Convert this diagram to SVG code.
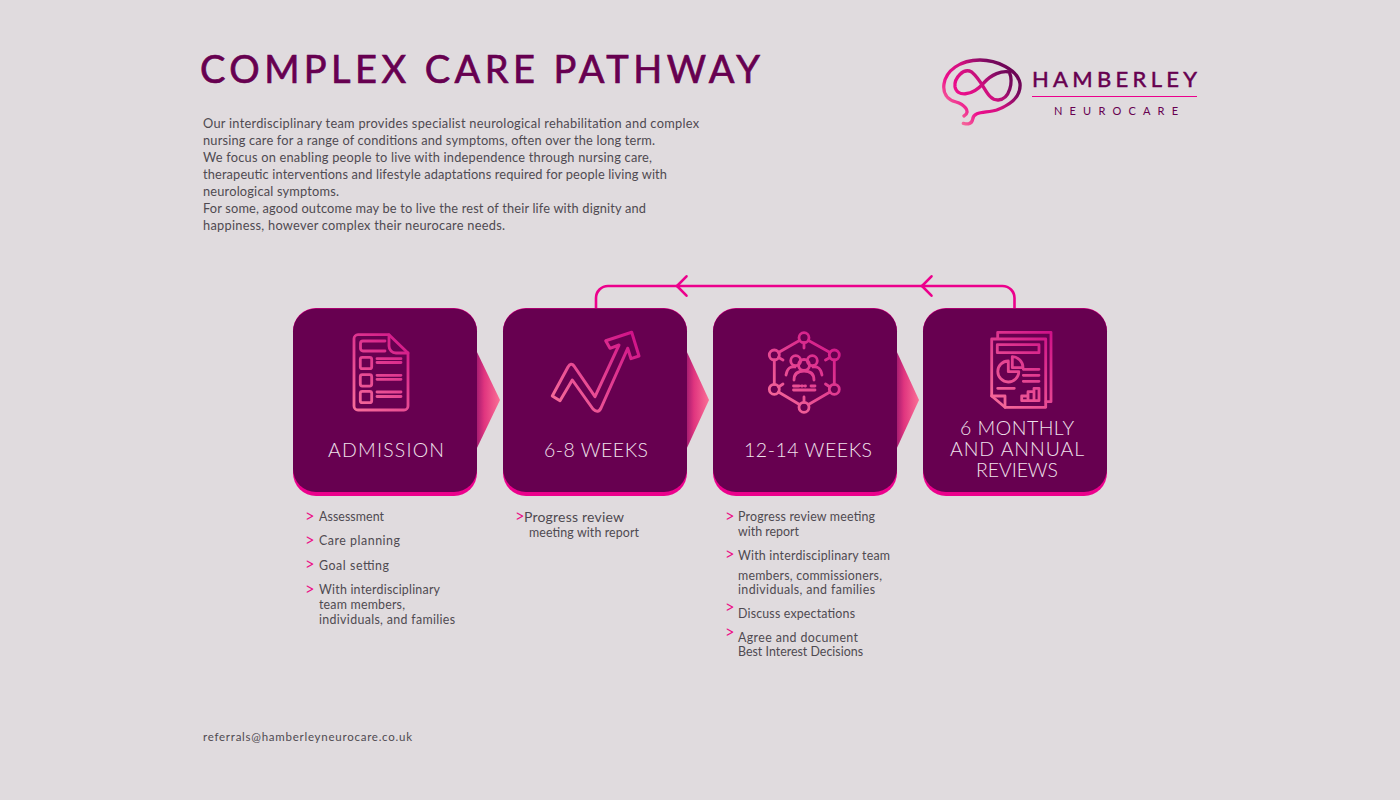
<svg xmlns="http://www.w3.org/2000/svg" width="1400" height="800" viewBox="0 0 1400 800">
<style>
text{font-family:"Lato","Open Sans","Liberation Sans",sans-serif}
.title{font-size:38px;fill:#670050;font-weight:400;stroke:#670050;stroke-width:0.7px}
.para{font-size:12.800px;fill:#4f4a51;font-weight:400}
.li{font-size:12.400px;fill:#4f4a51;font-weight:400}
.gt{font-size:16.500px;fill:#ec1088;font-weight:400}
.lab{font-size:19.500px;fill:#f0e2ec;font-weight:300}
.lip{fill:#ec008c}
.card{fill:#670050}
.ic{fill:none;stroke-width:2.800;stroke-linejoin:round;stroke-linecap:round}
.loop{fill:none;stroke:#ec008c;stroke-width:2.600;stroke-linecap:round}
</style>
<defs>
<linearGradient id="ar1" x1="0" x2="1" y1="0" y2="0"><stop offset="0" stop-color="#a01a70"/><stop offset="0.35" stop-color="#e0357f"/><stop offset="1" stop-color="#fb7096"/></linearGradient>
<linearGradient id="i1" gradientUnits="userSpaceOnUse" x1="350" y1="410" x2="412" y2="335"><stop offset="0" stop-color="#f8709a"/><stop offset="1" stop-color="#cf1088"/></linearGradient>
<linearGradient id="i2" gradientUnits="userSpaceOnUse" x1="552" y1="410" x2="638" y2="335"><stop offset="0" stop-color="#f8709a"/><stop offset="1" stop-color="#cf1088"/></linearGradient>
<linearGradient id="i3" gradientUnits="userSpaceOnUse" x1="770" y1="410" x2="838" y2="335"><stop offset="0" stop-color="#f8709a"/><stop offset="1" stop-color="#cf1088"/></linearGradient>
<linearGradient id="i4" gradientUnits="userSpaceOnUse" x1="990" y1="408" x2="1052" y2="332"><stop offset="0" stop-color="#f8709a"/><stop offset="1" stop-color="#cf1088"/></linearGradient>
<linearGradient id="lg" gradientUnits="userSpaceOnUse" x1="50" y1="230" x2="240" y2="60"><stop offset="0" stop-color="#f98aa0"/><stop offset="0.3" stop-color="#ec0d8c"/><stop offset="0.55" stop-color="#d0107f"/><stop offset="0.8" stop-color="#7a0a60"/><stop offset="1" stop-color="#670050"/></linearGradient>
<marker id="chev" markerUnits="userSpaceOnUse" markerWidth="24" markerHeight="24" viewBox="-12 -12 24 24" refX="0" refY="0" orient="auto" overflow="visible"><path d="M-9.500,-9.700 L0,0 L-9.500,9.700" fill="none" stroke="#ec008c" stroke-width="2.600" stroke-linecap="round" stroke-linejoin="round"/></marker>
</defs>
<rect width="1400" height="800" fill="#e0dbde"/>

<g id="header">
<text class="title" x="200" y="83" textLength="560" lengthAdjust="spacing">COMPLEX CARE PATHWAY</text>
<text class="para" x="203" y="128" textLength="496" lengthAdjust="spacing">Our interdisciplinary team provides specialist neurological rehabilitation and complex</text>
<text class="para" x="203" y="145" textLength="452" lengthAdjust="spacing">nursing care for a range of conditions and symptoms, often over the long term.</text>
<text class="para" x="203" y="162" textLength="449" lengthAdjust="spacing">We focus on enabling people to live with independence through nursing care,</text>
<text class="para" x="203" y="179" textLength="464" lengthAdjust="spacing">therapeutic interventions and lifestyle adaptations required for people living with</text>
<text class="para" x="203" y="196" textLength="136" lengthAdjust="spacing">neurological symptoms.</text>
<text class="para" x="203" y="213" textLength="443" lengthAdjust="spacing">For some, agood outcome may be to live the rest of their life with dignity and</text>
<text class="para" x="203" y="230" textLength="302" lengthAdjust="spacing">happiness, however complex their neurocare needs.</text>
</g>

<g id="logo">
<g transform="translate(930,40) scale(0.3333)" fill="none" stroke="url(#lg)" stroke-width="10" stroke-linecap="round" stroke-linejoin="round">
<path d="M102,228 C125,215 100,192 78,186 C50,178 38,158 42,132 C48,92 90,60 150,60 C200,60 262,88 270,130 C274,170 240,195 200,210 C170,220 130,212 128,238 C124,256 108,252 100,250"/>
<path d="M238,96 C250,125 240,178 205,180 C170,182 165,130 125,96 C100,82 72,115 75,140 C80,170 125,170 160,130 C185,102 215,92 238,96"/>
</g>
<text x="1032" y="87" font-size="22" fill="#670050" stroke="#670050" stroke-width="0.5" textLength="165" lengthAdjust="spacing">HAMBERLEY</text>
<rect x="1032" y="96" width="165" height="1" fill="#ec008c"/>
<text x="1054" y="114.500" font-size="11" fill="#670050" textLength="124" lengthAdjust="spacing">NEUROCARE</text>
</g>

<g id="connectors">
<polygon points="476,350 500,400 476,450" fill="url(#ar1)"/>
<polygon points="686,350 709,400 686,450" fill="url(#ar1)"/>
<polygon points="896,350 919,400 896,450" fill="url(#ar1)"/>
<path class="loop" d="M1014.500,308 V298 A12,12 0 0 0 1002.500,286 H922" marker-end="url(#chev)"/>
<path class="loop" d="M922,286 H677" marker-end="url(#chev)"/>
<path class="loop" d="M677,286 H608 A12,12 0 0 0 596,298 V308"/>
</g>

<g id="node-admission">
<rect class="lip" x="293" y="308" width="184" height="188" rx="23"/>
<rect class="card" x="293" y="308.500" width="184" height="183.500" rx="23"/>
<g class="ic" stroke="url(#i1)">
<path d="M389,334.700 H358 a4,4 0 0 0 -4,4 V406 a4,4 0 0 0 4,4 H404 a4,4 0 0 0 4,-4 V353 Z"/>
<path d="M389,335 V346 a7,7 0 0 0 7,7 H408"/>
<path d="M385,341 H363 a2.500,2.500 0 0 0 -2.500,2.500 V348.500 a2.500,2.500 0 0 0 2.500,2.500 H385"/>
<rect x="360.300" y="357.300" width="11.400" height="11.400" rx="2"/>
<rect x="360.300" y="374.700" width="11.400" height="11.400" rx="2"/>
<rect x="360.300" y="391.300" width="11.400" height="11.400" rx="2"/>
<path d="M377,358.700 H401 M377,362.500 H401 M377,375.300 H401 M377,379.300 H401 M377,392 H401 M377,396.500 H401"/>
</g>
<text class="lab" x="328" y="457" textLength="116" lengthAdjust="spacing">ADMISSION</text>
</g>

<g id="node-6-8-weeks">
<rect class="lip" x="503" y="308" width="184" height="188" rx="23"/>
<rect class="card" x="503" y="308.500" width="184" height="183.500" rx="23"/>
<path class="ic" stroke="url(#i2)" style="stroke-width:3" d="M552.300,396 L568,367 Q571,362 574,366 L595,396.700 L619,345 L610,348.300 L605.700,340.700 L631.700,332.300 L639,356 L631,358.700 L627.700,348.300 L601,408 Q598,414 593,409 L572.300,380 L560,400.700 Z"/>
<text class="lab" x="544" y="457" textLength="104" lengthAdjust="spacing">6-8 WEEKS</text>
</g>

<g id="node-12-14-weeks">
<rect class="lip" x="713" y="308" width="184" height="188" rx="23"/>
<rect class="card" x="713" y="308.500" width="184" height="183.500" rx="23"/>
<g class="ic" stroke="url(#i3)">
<circle cx="804" cy="337.700" r="5"/><circle cx="774.300" cy="355" r="5"/><circle cx="834.300" cy="355" r="5"/><circle cx="774.300" cy="389.300" r="5"/><circle cx="834.300" cy="389.300" r="5"/><circle cx="804" cy="407.300" r="5"/>
<path d="M808.500,340.500 L830,352.500 M799.500,340.500 L778.500,352.500 M774.300,360 V384.300 M834.300,360 V384.300 M778.500,392 L799.500,404.500 M830,392 L808.500,404.500 M804,342.700 V348 M804,402.300 V397 M778.500,357.500 L783,360 M830,357.500 L825.500,360 M778.500,387 L783,384 M830,387 L825.500,384"/>
<circle cx="795.700" cy="360.700" r="5"/><circle cx="812.300" cy="360.700" r="5"/><circle cx="804" cy="365" r="5.500"/>
<path d="M786,375 C787,368 791,366 795,367 M822,375 C821,368 817,366 813,367 M794,380 C794,373 799,371 804,371 C809,371 814,373 814,380"/>
<path d="M793.500,386 H799 M801.500,386 H802.500 M805,386 H805.500 M811,386 H815 M793.500,390 H815"/>
</g>
<text class="lab" x="744" y="457" textLength="128" lengthAdjust="spacing">12-14 WEEKS</text>
</g>

<g id="node-reviews">
<rect class="lip" x="923" y="308" width="184" height="188" rx="23"/>
<rect class="card" x="923" y="308.500" width="184" height="183.500" rx="23"/>
<g class="ic" stroke="url(#i4)">
<path d="M997.700,338 V332.300 H1051 V401.700 H1046"/>
<path d="M991.700,339 H1045.700 V407.300 H1005 L991.700,396 Z"/>
<path d="M991.700,396 H1005 V407.300"/>
<rect x="997.300" y="344.700" width="41.700" height="8"/>
<path d="M1008.300,361 A10.500,10.500 0 1 0 1018.800,371.700 H1008.300 Z"/>
<path d="M1012.300,356.700 A11,11 0 0 1 1023,367.700 H1012.300 Z"/>
<path d="M1023.300,369.300 H1039 M1023.300,375.300 H1039 M1023.300,381.300 H1039 M997.700,388.300 H1014.300"/>
<path d="M1021.700,400.700 V396 H1028 V400.700 M1028,400.700 V391.700 H1034 V400.700 M1034,400.700 V388.300 H1039 V400.700 H1021.700"/>
</g>
<text class="lab" x="960" y="435" textLength="114" lengthAdjust="spacing">6 MONTHLY</text>
<text class="lab" x="950" y="456" textLength="134" lengthAdjust="spacing">AND ANNUAL</text>
<text class="lab" x="976" y="477" textLength="82" lengthAdjust="spacing">REVIEWS</text>
</g>

<g id="list-admission">
<text class="gt" x="305" y="522">&gt;</text><text class="li" x="319" y="521" textLength="65" lengthAdjust="spacing">Assessment</text>
<text class="gt" x="305" y="546">&gt;</text><text class="li" x="319" y="545" textLength="81" lengthAdjust="spacing">Care planning</text>
<text class="gt" x="305" y="570">&gt;</text><text class="li" x="319" y="570" textLength="70" lengthAdjust="spacing">Goal setting</text>
<text class="gt" x="305" y="595">&gt;</text><text class="li" x="319" y="594" textLength="121" lengthAdjust="spacing">With interdisciplinary</text>
<text class="li" x="319" y="609" textLength="86" lengthAdjust="spacing">team members,</text>
<text class="li" x="319" y="624" textLength="136" lengthAdjust="spacing">individuals, and families</text>
</g>

<g id="list-6-8-weeks">
<text class="gt" x="515" y="522">&gt;</text><text class="li" x="524" y="522" style="font-size:14px" textLength="100" lengthAdjust="spacing">Progress review</text>
<text class="li" x="529" y="537" textLength="110" lengthAdjust="spacing">meeting with report</text>
</g>

<g id="list-12-14-weeks">
<text class="gt" x="725" y="522">&gt;</text><text class="li" x="738" y="521" textLength="137" lengthAdjust="spacing">Progress review meeting</text>
<text class="li" x="738" y="536" textLength="61" lengthAdjust="spacing">with report</text>
<text class="gt" x="725" y="560">&gt;</text><text class="li" x="738" y="560" textLength="152" lengthAdjust="spacing">With interdisciplinary team</text>
<text class="li" x="738" y="580" textLength="144" lengthAdjust="spacing">members, commissioners,</text>
<text class="li" x="738" y="594" textLength="137" lengthAdjust="spacing">individuals, and families</text>
<text class="gt" x="725" y="613">&gt;</text><text class="li" x="738" y="618" textLength="117" lengthAdjust="spacing">Discuss expectations</text>
<text class="gt" x="725" y="638">&gt;</text><text class="li" x="738" y="642" textLength="120" lengthAdjust="spacing">Agree and document</text>
<text class="li" x="738" y="656" textLength="125" lengthAdjust="spacing">Best Interest Decisions</text>
</g>

<g id="footer">
<text class="para" x="203" y="741" style="font-size:11.500px" textLength="209" lengthAdjust="spacing">referrals@hamberleyneurocare.co.uk</text>
</g>
</svg>
